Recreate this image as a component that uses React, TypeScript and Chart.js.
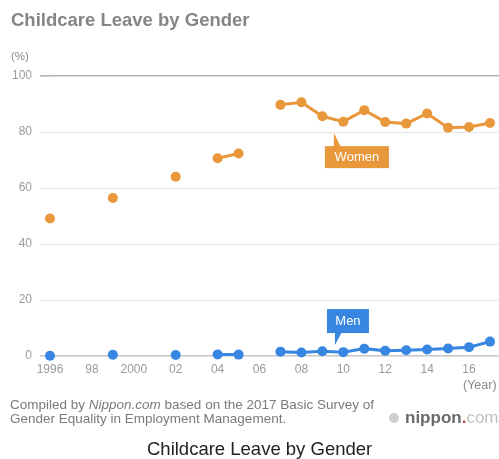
import React, { useEffect, useRef } from "react";
import { Chart, registerables } from "chart.js";

Chart.register(...registerables);

const FONT = "'Liberation Sans', Arial, Helvetica, sans-serif";

const years = [1996, 1997, 1998, 1999, 2000, 2001, 2002, 2003, 2004, 2005, 2006, 2007, 2008, 2009, 2010, 2011, 2012, 2013, 2014, 2015, 2016, 2017];
const women = [49.1, null, null, 56.4, null, null, 64.0, null, 70.6, 72.3, null, 89.7, 90.6, 85.6, 83.7, 87.8, 83.6, 83.0, 86.6, 81.5, 81.8, 83.2];
const men = [0.12, null, null, 0.42, null, null, 0.33, null, 0.56, 0.5, null, 1.56, 1.23, 1.72, 1.38, 2.63, 1.89, 2.03, 2.3, 2.65, 3.16, 5.14];

const xTickYears = [1996, 1998, 2000, 2002, 2004, 2006, 2008, 2010, 2012, 2014, 2016];
const xTickLabels = ["1996", "98", "2000", "02", "04", "06", "08", "10", "12", "14", "16"];
const yTicks = [0, 20, 40, 60, 80, 100];

const WOMEN_COLOR = "#e8973b";
const MEN_COLOR = "#3786e2";

// callout labels: tip anchored in data coordinates
const callouts = [
  { text: "Women", x: 2009.55, y: 79.6, color: WOMEN_COLOR, below: true, w: 64, h: 22, dx: -9, gap: 13 },
  { text: "Men", x: 2009.6, y: 3.9, color: MEN_COLOR, below: false, w: 42, h: 24, dx: -8, gap: 12 },
];

const calloutPlugin = {
  id: "callouts",
  afterDatasetsDraw(chart: any) {
    const { ctx, scales } = chart;
    const xs = scales.x;
    const ys = scales.y;
    ctx.save();
    for (const c of callouts) {
      const tx = xs.getPixelForValue(c.x);
      const ty = ys.getPixelForValue(c.y);
      const left = tx + c.dx;
      const top = c.below ? ty + c.gap : ty - c.gap - c.h;
      ctx.fillStyle = c.color;
      ctx.fillRect(left, top, c.w, c.h);
      ctx.beginPath();
      if (c.below) {
        ctx.moveTo(tx, ty);
        ctx.lineTo(tx, top + 1);
        ctx.lineTo(tx + 7, top + 1);
      } else {
        ctx.moveTo(tx, ty);
        ctx.lineTo(tx, top + c.h - 1);
        ctx.lineTo(tx + 7, top + c.h - 1);
      }
      ctx.closePath();
      ctx.fill();
      ctx.fillStyle = "#ffffff";
      ctx.font = `13px ${FONT}`;
      ctx.textAlign = "center";
      ctx.textBaseline = "middle";
      ctx.fillText(c.text, left + c.w / 2, top + c.h / 2 + 0.5);
    }
    ctx.restore();
  },
};

export default function App() {
  const ref = useRef<HTMLCanvasElement | null>(null);

  useEffect(() => {
    if (!ref.current) return;
    Chart.defaults.font.family = FONT;
    const chart = new Chart(ref.current, {
      type: "line",
      data: {
        datasets: [
          {
            label: "Women",
            data: years.map((yr, i) => ({ x: yr, y: women[i] })) as any,
            borderColor: WOMEN_COLOR,
            backgroundColor: WOMEN_COLOR,
            pointBackgroundColor: WOMEN_COLOR,
            pointBorderWidth: 0,
            pointRadius: 5,
            borderWidth: 3,
            spanGaps: false,
            clip: false as any,
          },
          {
            label: "Men",
            data: years.map((yr, i) => ({ x: yr, y: men[i] })) as any,
            borderColor: MEN_COLOR,
            backgroundColor: MEN_COLOR,
            pointBackgroundColor: MEN_COLOR,
            pointBorderWidth: 0,
            pointRadius: 5,
            borderWidth: 3,
            spanGaps: false,
            clip: false as any,
          },
        ],
      },
      options: {
        responsive: false,
        animation: false,
        layout: { autoPadding: false, padding: { top: 76, bottom: 83, left: 0, right: 0 } },
        plugins: {
          legend: { display: false },
          tooltip: { enabled: false },
          title: { display: false },
        },
        scales: {
          x: {
            type: "linear",
            min: 1996,
            max: 2017.43,
            grid: { display: false, drawTicks: false },
            border: { display: false },
            afterBuildTicks: (scale: any) => {
              scale.ticks = xTickYears.map((v) => ({ value: v }));
            },
            afterFit: (scale: any) => {
              scale.height = 20;
            },
            ticks: {
              autoSkip: false,
              maxRotation: 0,
              padding: 6,
              color: "#9a9a9a",
              font: { size: 12 },
              callback: (value: any) => {
                const i = xTickYears.indexOf(Number(value));
                return i >= 0 ? xTickLabels[i] : "";
              },
            },
          },
          y: {
            type: "linear",
            min: 0,
            max: 100,
            afterBuildTicks: (scale: any) => {
              scale.ticks = yTicks.map((v) => ({ value: v }));
            },
            afterFit: (scale: any) => {
              scale.width = 50;
            },
            border: { display: false },
            grid: {
              drawTicks: true,
              tickLength: 10,
              color: (c: any) =>
                c.tick && c.tick.value === 100 ? "#b3b3b3" : c.tick && c.tick.value === 0 ? "#c6c6c6" : "#e6e6e6",
              lineWidth: (c: any) => (c.tick && (c.tick.value === 100 || c.tick.value === 0) ? 1.6 : 1),
            },
            ticks: {
              padding: 8,
              color: "#9a9a9a",
              font: { size: 12 },
            },
          },
        },
      },
      plugins: [calloutPlugin],
    });
    return () => chart.destroy();
  }, []);

  const abs = (o: React.CSSProperties): React.CSSProperties => ({
    position: "absolute",
    whiteSpace: "nowrap",
    fontFamily: FONT,
    ...o,
  });

  return (
    <div style={{ position: "absolute", left: 0, top: 0, width: 499, height: 459, background: "#ffffff", overflow: "hidden" }}>
      <canvas ref={ref} width={499} height={459} style={{ position: "absolute", left: 0, top: 0, width: 499, height: 459 }} />
      <div style={abs({ left: 11, top: 9, fontSize: 18.5, lineHeight: "22px", fontWeight: "bold", color: "#858585" })}>
        Childcare Leave by Gender
      </div>
      <div style={abs({ left: 11, top: 49, fontSize: 11.5, lineHeight: "14px", color: "#8a8a8a" })}>(%)</div>
      <div style={abs({ left: 463, top: 378, fontSize: 12.5, lineHeight: "14px", color: "#8a8a8a" })}>(Year)</div>
      <div style={abs({ left: 10, top: 398, fontSize: 13.5, lineHeight: "14px", color: "#7a7a7a" })}>
        Compiled by <i>Nippon.com</i> based on the 2017 Basic Survey of
        <br />
        Gender Equality in Employment Management.
      </div>
      <div style={abs({ left: 389, top: 408, fontSize: 17, lineHeight: "20px", color: "#6a6a6a" })}>
        <span
          style={{
            display: "inline-block",
            width: 10,
            height: 10,
            borderRadius: 5,
            background: "#cfcfcf",
            marginRight: 6,
            verticalAlign: "middle",
            position: "relative",
            top: -1,
          }}
        />
        <span style={{ fontWeight: "bold" }}>nippon</span>
        <span style={{ fontWeight: "bold", color: "#e04848" }}>.</span>
        <span style={{ color: "#c2c2c2" }}>com</span>
      </div>
      <div style={abs({ left: 147, top: 438, fontSize: 18.5, lineHeight: "22px", color: "#222222" })}>
        Childcare Leave by Gender
      </div>
    </div>
  );
}
